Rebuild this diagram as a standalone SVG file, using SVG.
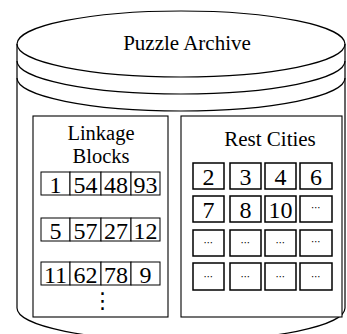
<svg xmlns="http://www.w3.org/2000/svg" width="347" height="334" viewBox="0 0 347 334">
  <style>
    .line { fill: none; stroke: #000; stroke-width: 1.2; }
    .panel { fill: #fff; stroke: #000; stroke-width: 1.1; }
    .cell { fill: #fff; stroke: #000; stroke-width: 1; }
    .rcell { fill: #fff; stroke: #000; stroke-width: 1.5; }
    text { font-family: 'Liberation Serif', 'Times New Roman', Times, serif; fill: #000; text-anchor: middle; }
    .title { font-size: 21px; }
    .sub { font-size: 20.5px; }
    .num { font-size: 24px; }
    .dots { font-family: 'DejaVu Sans', sans-serif; font-size: 10px; }
    .vdots { font-family: 'DejaVu Sans', sans-serif; font-size: 22px; }
  </style>

  <!-- archive cylinder -->
  <g id="archive">
    <path class="line" d="M17,44 L17,308 A164,33 0 0 0 345,308 L345,44" fill="#fff"/>
    <ellipse class="line" cx="181" cy="44" rx="164" ry="33" fill="#fff"/>
    <path class="line" d="M17,61 A164,33 0 0 0 345,61"/>
    <path class="line" d="M17,78 A164,33 0 0 0 345,78"/>
    <text class="title" x="187" y="50">Puzzle Archive</text>
  </g>

  <!-- linkage blocks panel -->
  <g id="linkage-blocks">
    <rect class="panel" x="33" y="116" width="135" height="201"/>
    <text class="sub" x="101" y="140">Linkage</text>
    <text class="sub" x="101" y="163">Blocks</text>

    <g id="block-1">
      <rect class="cell" x="41" y="172" width="29" height="23"/>
      <rect class="cell" x="70" y="172" width="31" height="23"/>
      <rect class="cell" x="101" y="172" width="30" height="23"/>
      <rect class="cell" x="131" y="172" width="29" height="23"/>
      <text class="num" x="55.5" y="192.5">1</text>
      <text class="num" x="85.5" y="192.5">54</text>
      <text class="num" x="116" y="192.5">48</text>
      <text class="num" x="145.5" y="192.5">93</text>
    </g>
    <g id="block-2">
      <rect class="cell" x="41" y="218" width="29" height="23"/>
      <rect class="cell" x="70" y="218" width="31" height="23"/>
      <rect class="cell" x="101" y="218" width="30" height="23"/>
      <rect class="cell" x="131" y="218" width="29" height="23"/>
      <text class="num" x="55.5" y="238.5">5</text>
      <text class="num" x="85.5" y="238.5">57</text>
      <text class="num" x="116" y="238.5">27</text>
      <text class="num" x="145.5" y="238.5">12</text>
    </g>
    <g id="block-3">
      <rect class="cell" x="41" y="262" width="29" height="23"/>
      <rect class="cell" x="70" y="262" width="31" height="23"/>
      <rect class="cell" x="101" y="262" width="30" height="23"/>
      <rect class="cell" x="131" y="262" width="29" height="23"/>
      <text class="num" x="55.5" y="282.5">11</text>
      <text class="num" x="85.5" y="282.5">62</text>
      <text class="num" x="116" y="282.5">78</text>
      <text class="num" x="145.5" y="282.5">9</text>
    </g>
    <text class="vdots" x="102.5" y="308">⋮</text>
  </g>

  <!-- remaining cities panel -->
  <g id="rest-cities">
    <rect class="panel" x="181" y="116" width="161" height="201"/>
    <text class="title" x="270" y="146">Rest Cities</text>

    <rect class="rcell" x="193" y="163" width="31" height="26"/>
    <rect class="rcell" x="230" y="163" width="31" height="26"/>
    <rect class="rcell" x="265" y="163" width="31" height="26"/>
    <rect class="rcell" x="300" y="163" width="32" height="26"/>
    <text class="num" x="208.5" y="184.5">2</text>
    <text class="num" x="245.5" y="184.5">3</text>
    <text class="num" x="280.5" y="184.5">4</text>
    <text class="num" x="316" y="184.5">6</text>

    <rect class="rcell" x="193" y="196" width="31" height="26"/>
    <rect class="rcell" x="230" y="196" width="31" height="26"/>
    <rect class="rcell" x="265" y="196" width="31" height="26"/>
    <rect class="rcell" x="300" y="196" width="32" height="26"/>
    <text class="num" x="208.5" y="217.5">7</text>
    <text class="num" x="245.5" y="217.5">8</text>
    <text class="num" x="280.5" y="217.5">10</text>
    <text class="dots" x="316" y="211">⋯</text>

    <rect class="rcell" x="193" y="230" width="31" height="26"/>
    <rect class="rcell" x="230" y="230" width="31" height="26"/>
    <rect class="rcell" x="265" y="230" width="31" height="26"/>
    <rect class="rcell" x="300" y="230" width="32" height="26"/>
    <text class="dots" x="208.5" y="246">⋯</text>
    <text class="dots" x="245.5" y="246">⋯</text>
    <text class="dots" x="280.5" y="246">⋯</text>
    <text class="dots" x="316" y="245">⋯</text>

    <rect class="rcell" x="193" y="263" width="31" height="27"/>
    <rect class="rcell" x="230" y="263" width="31" height="27"/>
    <rect class="rcell" x="265" y="263" width="31" height="27"/>
    <rect class="rcell" x="300" y="263" width="32" height="27"/>
    <text class="dots" x="208.5" y="280">⋯</text>
    <text class="dots" x="245.5" y="280">⋯</text>
    <text class="dots" x="280.5" y="280">⋯</text>
    <text class="dots" x="316" y="280">⋯</text>
  </g>

  <!-- no connectors in this figure -->
  <g id="connectors"/>
</svg>
